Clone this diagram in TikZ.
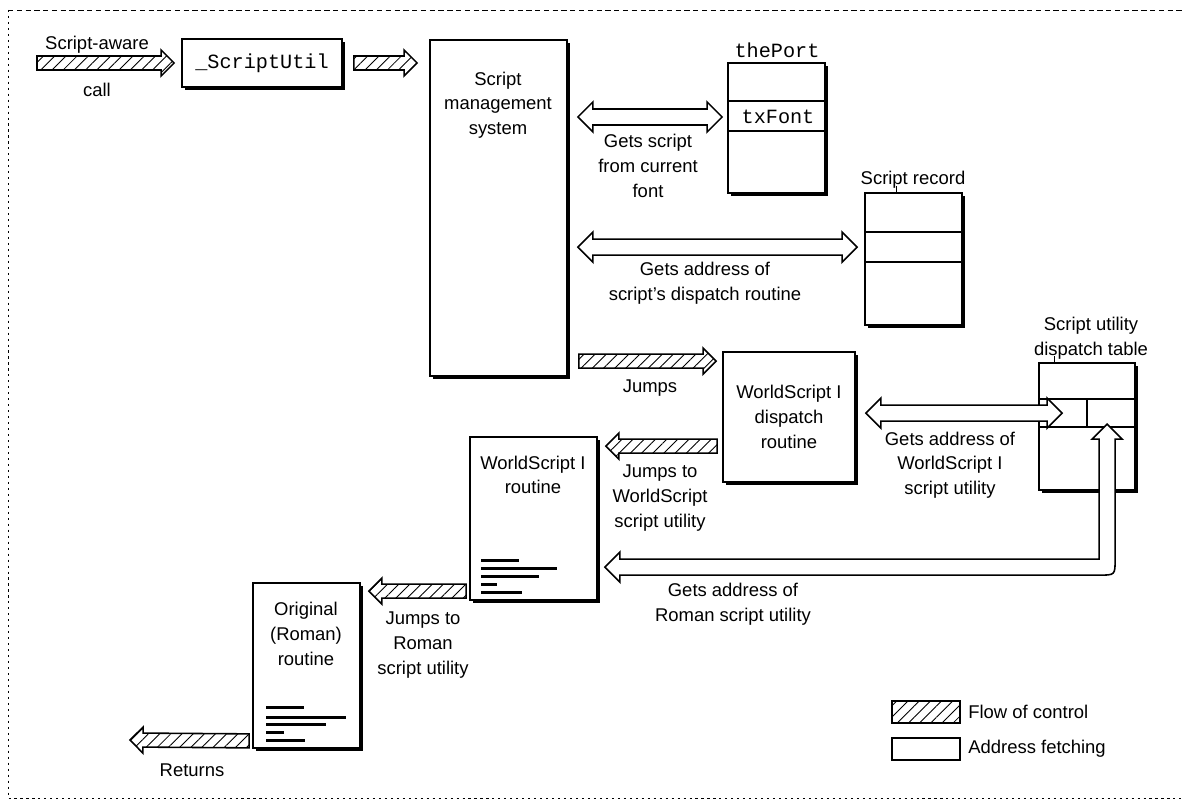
\documentclass[tikz,border=0pt]{standalone}
\usepackage{fontspec}
\setmainfont{Liberation Sans}
\setmonofont{Liberation Mono}
\usetikzlibrary{calc,shadows,patterns.meta}

\newcommand{\pxu}{0.02cm}

\tikzset{
  aw/.store in=\aw, ah/.store in=\ah, al/.store in=\al,
  box/.style={draw, line width=1pt, fill=white, inner sep=0pt,
    drop shadow={shadow xshift=0.06cm, shadow yshift=-0.06cm, opacity=1, fill=black}},
  txt/.style={inner sep=0pt, align=center, font=\fontsize{10.5}{14}\selectfont},
  codefont/.style={inner sep=0pt, font=\fontsize{11.5}{14}\selectfont\ttfamily},
  hatch/.style={pattern={Lines[angle=45,distance=4.5pt,line width=0.5pt]}},
  codebar/.style={line width=1.6pt},
  divider/.style={line width=1pt},
  flow/.style={draw, line width=0.9pt, hatch, aw=0.14cm, ah=0.26cm, al=0.26cm,
    to path={
      ($(\tikztostart)!\aw!90:(\tikztotarget)$)
      -- ($($(\tikztotarget)!\al!(\tikztostart)$)!\aw!90:(\tikztotarget)$)
      -- ($($(\tikztotarget)!\al!(\tikztostart)$)!\ah!90:(\tikztotarget)$)
      -- (\tikztotarget)
      -- ($($(\tikztotarget)!\al!(\tikztostart)$)!\ah!-90:(\tikztotarget)$)
      -- ($($(\tikztotarget)!\al!(\tikztostart)$)!\aw!-90:(\tikztotarget)$)
      -- ($(\tikztostart)!\aw!-90:(\tikztotarget)$)
      -- cycle}},
  fetch/.style={draw, line width=0.9pt, fill=white, aw=0.16cm, ah=0.3cm, al=0.3cm,
    to path={
      (\tikztostart)
      -- ($($(\tikztostart)!\al!(\tikztotarget)$)!\ah!90:(\tikztotarget)$)
      -- ($($(\tikztostart)!\al!(\tikztotarget)$)!\aw!90:(\tikztotarget)$)
      -- ($($(\tikztotarget)!\al!(\tikztostart)$)!\aw!90:(\tikztotarget)$)
      -- ($($(\tikztotarget)!\al!(\tikztostart)$)!\ah!90:(\tikztotarget)$)
      -- (\tikztotarget)
      -- ($($(\tikztotarget)!\al!(\tikztostart)$)!\ah!-90:(\tikztotarget)$)
      -- ($($(\tikztotarget)!\al!(\tikztostart)$)!\aw!-90:(\tikztotarget)$)
      -- ($($(\tikztostart)!\al!(\tikztotarget)$)!\aw!-90:(\tikztotarget)$)
      -- ($($(\tikztostart)!\al!(\tikztotarget)$)!\ah!-90:(\tikztotarget)$)
      -- cycle}}
}

\begin{document}
\begin{tikzpicture}[x=0.02cm, y=-0.02cm]
	\useasboundingbox (0,0) rectangle (1184,804);
	% frame
	\draw[dash pattern=on 3pt off 2pt] (8,10) -- (1184,10);
	\draw[dash pattern=on 1.2pt off 2.2pt] (8,10) -- (8,798) -- (1184,798);

	% boxes
	\node[box, codefont, minimum width=160*\pxu, minimum height=48*\pxu] (su) at (262,63) {\_ScriptUtil};
	\node[box, minimum width=137*\pxu, minimum height=336*\pxu] (sms) at (498.5,208) {};
	\node[txt] (smslbl) at (498,105) {Script\\management\\system};

	\node[codefont] (portlbl) at (777,50) {thePort};
	\node[box, minimum width=97*\pxu, minimum height=130*\pxu] (port) at (776.5,128) {};
	\draw[divider] ($(port.north west)+(0,39)$) -- ($(port.north east)+(0,39)$);
	\draw[divider] ($(port.north west)+(0,69)$) -- ($(port.north east)+(0,69)$);
	\node[codefont] (txf) at (778,117) {txFont};

	\node[txt] (reclbl) at (913,180) {Script record};
	\node[box, minimum width=97*\pxu, minimum height=132*\pxu] (rec) at (913.5,259) {};
	\draw[divider] ($(rec.north west)+(0,40)$) -- ($(rec.north east)+(0,40)$);
	\draw[divider] ($(rec.north west)+(0,70)$) -- ($(rec.north east)+(0,70)$);
	\draw ($(rec.north west)+(32,0)$) -- ++(0,-6);
	\coordinate (recf) at ($(rec.north west)+(-7,55)$);

	\node[box, txt, minimum width=132*\pxu, minimum height=130*\pxu] (wd) at (789,417) {WorldScript I\\dispatch\\routine};

	\node[txt] (dtlbl) at (1091,338) {Script utility\\dispatch table};
	\node[box, minimum width=96*\pxu, minimum height=127*\pxu] (dt) at (1087,426.5) {};
	\draw[divider] ($(dt.north west)+(0,37)$) -- ($(dt.north east)+(0,37)$);
	\draw[divider] ($(dt.north west)+(0,65)$) -- ($(dt.north east)+(0,65)$);
	\draw[divider] ($(dt.north)+(0,37)$) -- ($(dt.north)+(0,65)$);
	\draw ($(dt.north west)+(16,0)$) -- ++(0,-6);
	\coordinate (dtl) at ($(dt.north west)+(24,51)$);
	\coordinate (cellr) at ($(dt.north west)+(69,62)$);

	\node[box, minimum width=127*\pxu, minimum height=163*\pxu] (wr) at (533.5,518.5) {};
	\node[txt] (wrlbl) at (533,475) {WorldScript I\\routine};
	\foreach \dy/\len in {0/38, 8/76, 16/58, 24/16, 32/41}
		\draw[codebar] ($(wr.south west)+(12,-40+\dy)$) -- ++(\len,0);

	\node[box, minimum width=107*\pxu, minimum height=165*\pxu] (orr) at (306.5,665.5) {};
	\node[txt] (orrlbl) at (306,634) {Original\\(Roman)\\routine};
	\foreach \dy/\len in {0/38, 10/80, 17/60, 25/18, 33/39}
		\draw[codebar] ($(orr.south west)+(14,-41+\dy)$) -- ++(\len,0);

	% flow of control
	\coordinate (caller) at (37,63);
	\coordinate (back) at (130,740);
	\draw[flow] (caller) to ($(su.west)+(-7,0)$);
	\draw[flow] ($(su.east)+(11,0)$) to ($(sms.west |- su.east)+(-12,0)$);
	\draw[flow] ($(sms.east |- wd.north)+(11,10)$) to ($(wd.north west)+(-6,10)$);
	\draw[flow] ($(wd.west |- wr.north)+(-5,10)$) to ($(wr.north east)+(8,10)$);
	\draw[flow] ($(wr.west |- orr.north)+(-3,9)$) to ($(orr.north east)+(8,9)$);
	\draw[flow] ($(orr.south west)+(-3,-8)$) to (back);

	% address fetching
	\draw[fetch] ($(sms.east |- txf)+(10,0)$) to ($(port.west |- txf)+(-5,0)$);
	\draw[fetch] ($(sms.east |- recf)+(10,0)$) to (recf);
	\draw[fetch] ($(wd.east |- dtl)+(10,0)$) to (dtl);
	\coordinate (ltip) at ($(wr.north east)+(7,131)$);
	\draw[fetch] (cellr) -- ++(15,15) -- ++(-7,0)
		-- ($(cellr |- ltip)+(8,-8)$) .. controls ($(cellr |- ltip)+(8,8)$) .. ($(cellr |- ltip)+(-8,8)$)
		-- ($(ltip)+(15,8)$) -- ++(0,7) -- (ltip) -- ++(15,-15) -- ++(0,7)
		-- ($(cellr |- ltip)+(-8,-8)$) -- ($(cellr)+(-8,15)$) -- ++(-7,0) -- cycle;

	% labels
	\node[txt] (awarelbl) at (97,45) {Script-aware};
	\node[txt] (calllbl) at (97,90) {call};
	\node[txt] (fontlbl) at (648,166) {Gets script\\from current\\font};
	\node[txt] (recaddr) at (705,283) {Gets address of\\script's dispatch routine};
	\node[txt] (jumpslbl) at (650,388) {Jumps};
	\node[txt] (wsaddr) at (950,465) {Gets address of\\WorldScript I\\script utility};
	\node[txt] (wsjump) at (660,498) {Jumps to\\WorldScript\\script utility};
	\node[txt] (romaddr) at (733,604) {Gets address of\\Roman script utility};
	\node[txt] (romjump) at (423,645) {Jumps to\\Roman\\script utility};
	\node[txt] (retlbl) at (192,770) {Returns};

	% legend
	\node[draw, line width=1.2pt, hatch, minimum width=68*\pxu, minimum height=22*\pxu] (lflow) at (926,712) {};
	\node[draw, line width=1.2pt, minimum width=68*\pxu, minimum height=22*\pxu] (laddr) at (926,749) {};
	\node[txt, anchor=west] (lflowtxt) at (968,712) {Flow of control};
	\node[txt, anchor=west] (laddrtxt) at (968,749) {Address fetching};
\end{tikzpicture}
\end{document}
